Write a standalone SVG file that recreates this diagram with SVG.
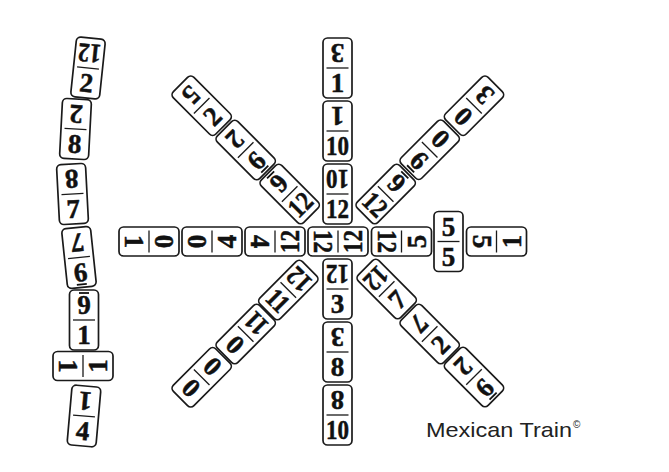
<svg xmlns="http://www.w3.org/2000/svg" xmlns:xlink="http://www.w3.org/1999/xlink" width="669" height="472" viewBox="0 0 669 472">
<style>
.d{fill:#fff;stroke:#1a1a1a;stroke-width:1.7}
.dv{stroke:#1a1a1a;stroke-width:1.3}
.n{font-family:"Liberation Serif","DejaVu Serif",serif;font-weight:bold;font-size:27px;text-anchor:middle;fill:#111;stroke:#111;stroke-width:0.5}
.u{stroke:#111;stroke-width:1.8}
.cap{font-family:"Liberation Sans",Arial,sans-serif;font-size:21px;fill:#222}
</style>
<defs>
<g id="dom"><rect class="d" x="-14.5" y="-30" width="29" height="60" rx="4.5"/><line class="dv" x1="-11" y1="0" x2="11" y2="0"/></g>
</defs>
<rect width="669" height="472" fill="#fff"/>
<g id="connectors"/>

<!-- top column -->
<g id="c1" transform="translate(337.5,68)"><use xlink:href="#dom"/><g transform="translate(0,-15) rotate(180)"><text class="n" y="9">3</text></g><g transform="translate(0,15)"><text class="n" y="9">1</text></g></g>
<g id="c2" transform="translate(337.5,131)"><use xlink:href="#dom"/><g transform="translate(0,-15) rotate(180)"><text class="n" y="9">1</text></g><g transform="translate(0,15)"><text class="n" y="9" textLength="23" lengthAdjust="spacingAndGlyphs">10</text></g></g>
<g id="c3" transform="translate(337.5,194)"><use xlink:href="#dom"/><g transform="translate(0,-15) rotate(180)"><text class="n" y="9" textLength="23" lengthAdjust="spacingAndGlyphs">10</text></g><g transform="translate(0,15)"><text class="n" y="9" textLength="23" lengthAdjust="spacingAndGlyphs">12</text></g></g>
<!-- center -->
<g id="center" transform="translate(338,241.5) rotate(-90)"><use xlink:href="#dom"/><g transform="translate(0,-15) rotate(180)"><text class="n" y="9" textLength="23" lengthAdjust="spacingAndGlyphs">12</text></g><g transform="translate(0,15)"><text class="n" y="9" textLength="23" lengthAdjust="spacingAndGlyphs">12</text></g></g>
<!-- bottom column -->
<g id="b1" transform="translate(337.5,289)"><use xlink:href="#dom"/><g transform="translate(0,-15) rotate(180)"><text class="n" y="9" textLength="23" lengthAdjust="spacingAndGlyphs">12</text></g><g transform="translate(0,15)"><text class="n" y="9">3</text></g></g>
<g id="b2" transform="translate(337.5,352)"><use xlink:href="#dom"/><g transform="translate(0,-15) rotate(180)"><text class="n" y="9">3</text></g><g transform="translate(0,15)"><text class="n" y="9">8</text></g></g>
<g id="b3" transform="translate(337.5,415)"><use xlink:href="#dom"/><g transform="translate(0,-15) rotate(180)"><text class="n" y="9">8</text></g><g transform="translate(0,15)"><text class="n" y="9" textLength="23" lengthAdjust="spacingAndGlyphs">10</text></g></g>
<!-- left arm -->
<g id="l1" transform="translate(275,241.5) rotate(-90)"><use xlink:href="#dom"/><g transform="translate(0,-15) rotate(180)"><text class="n" y="9">4</text></g><g transform="translate(0,15)"><text class="n" y="9" textLength="23" lengthAdjust="spacingAndGlyphs">12</text></g></g>
<g id="l2" transform="translate(212,241.5) rotate(-90)"><use xlink:href="#dom"/><g transform="translate(0,-15) rotate(180)"><text class="n" y="9">0</text></g><g transform="translate(0,15)"><text class="n" y="9">4</text></g></g>
<g id="l3" transform="translate(149,241.5) rotate(-90)"><use xlink:href="#dom"/><g transform="translate(0,-15) rotate(180)"><text class="n" y="9">1</text></g><g transform="translate(0,15)"><text class="n" y="9">0</text></g></g>
<!-- right arm -->
<g id="r1" transform="translate(401.5,241.5) rotate(-90)"><use xlink:href="#dom"/><g transform="translate(0,-15) rotate(180)"><text class="n" y="9" textLength="23" lengthAdjust="spacingAndGlyphs">12</text></g><g transform="translate(0,15)"><text class="n" y="9">5</text></g></g>
<g id="r2" transform="translate(448.5,241.5)"><use xlink:href="#dom"/><g transform="translate(0,-15)"><text class="n" y="9">5</text></g><g transform="translate(0,15)"><text class="n" y="9">5</text></g></g>
<g id="r3" transform="translate(496.5,241.5) rotate(-90)"><use xlink:href="#dom"/><g transform="translate(0,-15) rotate(180)"><text class="n" y="9">5</text></g><g transform="translate(0,15)"><text class="n" y="9">1</text></g></g>
<!-- upper-left arm -->
<g id="ul1" transform="translate(289.7,194) rotate(-45)"><use xlink:href="#dom"/><g transform="translate(0,-15) rotate(180)"><text class="n" y="9">6</text><line class="u" x1="-5" y1="12" x2="5" y2="12"/></g><g transform="translate(0,15)"><text class="n" y="9" textLength="23" lengthAdjust="spacingAndGlyphs">12</text></g></g>
<g id="ul2" transform="translate(245.7,150) rotate(-45)"><use xlink:href="#dom"/><g transform="translate(0,-15) rotate(180)"><text class="n" y="9">2</text></g><g transform="translate(0,15)"><text class="n" y="9">6</text><line class="u" x1="-5" y1="12" x2="5" y2="12"/></g></g>
<g id="ul3" transform="translate(201.7,105.7) rotate(-45)"><use xlink:href="#dom"/><g transform="translate(0,-15) rotate(180)"><text class="n" y="9">5</text></g><g transform="translate(0,15)"><text class="n" y="9">2</text></g></g>
<!-- upper-right arm -->
<g id="ur1" transform="translate(385.7,194) rotate(-135)"><use xlink:href="#dom"/><g transform="translate(0,-15) rotate(180)"><text class="n" y="9" textLength="23" lengthAdjust="spacingAndGlyphs">12</text></g><g transform="translate(0,15)"><text class="n" y="9">6</text><line class="u" x1="-5" y1="12" x2="5" y2="12"/></g></g>
<g id="ur2" transform="translate(429.7,149.7) rotate(-135)"><use xlink:href="#dom"/><g transform="translate(0,-15) rotate(180)"><text class="n" y="9">6</text><line class="u" x1="-5" y1="12" x2="5" y2="12"/></g><g transform="translate(0,15)"><text class="n" y="9">0</text></g></g>
<g id="ur3" transform="translate(474,105.7) rotate(-135)"><use xlink:href="#dom"/><g transform="translate(0,-15) rotate(180)"><text class="n" y="9">0</text></g><g transform="translate(0,15)"><text class="n" y="9">3</text></g></g>
<!-- lower-left arm -->
<g id="ll1" transform="translate(288.3,290) rotate(-135)"><use xlink:href="#dom"/><g transform="translate(0,-15) rotate(180)"><text class="n" y="9" textLength="21" lengthAdjust="spacingAndGlyphs">11</text></g><g transform="translate(0,15)"><text class="n" y="9" textLength="23" lengthAdjust="spacingAndGlyphs">12</text></g></g>
<g id="ll2" transform="translate(245.7,334) rotate(-135)"><use xlink:href="#dom"/><g transform="translate(0,-15) rotate(180)"><text class="n" y="9">0</text></g><g transform="translate(0,15)"><text class="n" y="9" textLength="21" lengthAdjust="spacingAndGlyphs">11</text></g></g>
<g id="ll3" transform="translate(201.7,377.3) rotate(-135)"><use xlink:href="#dom"/><g transform="translate(0,-15) rotate(180)"><text class="n" y="9">0</text></g><g transform="translate(0,15)"><text class="n" y="9">0</text></g></g>
<!-- lower-right arm -->
<g id="lr1" transform="translate(386.7,289) rotate(-45)"><use xlink:href="#dom"/><g transform="translate(0,-15) rotate(180)"><text class="n" y="9" textLength="23" lengthAdjust="spacingAndGlyphs">12</text></g><g transform="translate(0,15)"><text class="n" y="9">7</text></g></g>
<g id="lr2" transform="translate(429.7,334) rotate(-45)"><use xlink:href="#dom"/><g transform="translate(0,-15) rotate(180)"><text class="n" y="9">7</text></g><g transform="translate(0,15)"><text class="n" y="9">2</text></g></g>
<g id="lr3" transform="translate(474,377) rotate(-45)"><use xlink:href="#dom"/><g transform="translate(0,-15) rotate(180)"><text class="n" y="9">2</text></g><g transform="translate(0,15)"><text class="n" y="9">6</text><line class="u" x1="-5" y1="12" x2="5" y2="12"/></g></g>
<!-- left column -->
<g id="s1" transform="translate(88,68) rotate(6)"><use xlink:href="#dom"/><g transform="translate(0,-15) rotate(180)"><text class="n" y="9" textLength="23" lengthAdjust="spacingAndGlyphs">12</text></g><g transform="translate(0,15)"><text class="n" y="9">2</text></g></g>
<g id="s2" transform="translate(75.5,129) rotate(3)"><use xlink:href="#dom"/><g transform="translate(0,-15) rotate(180)"><text class="n" y="9">2</text></g><g transform="translate(0,15)"><text class="n" y="9">8</text></g></g>
<g id="s3" transform="translate(72.5,194) rotate(-3)"><use xlink:href="#dom"/><g transform="translate(0,-15) rotate(180)"><text class="n" y="9">8</text></g><g transform="translate(0,15)"><text class="n" y="9">7</text></g></g>
<g id="s4" transform="translate(79,257.5) rotate(-6)"><use xlink:href="#dom"/><g transform="translate(0,-15) rotate(180)"><text class="n" y="9">7</text></g><g transform="translate(0,15)"><text class="n" y="9">6</text><line class="u" x1="-5" y1="12" x2="5" y2="12"/></g></g>
<g id="s5" transform="translate(84,320)"><use xlink:href="#dom"/><g transform="translate(0,-15) rotate(180)"><text class="n" y="9">6</text><line class="u" x1="-5" y1="12" x2="5" y2="12"/></g><g transform="translate(0,15)"><text class="n" y="9">1</text></g></g>
<g id="s6" transform="translate(83,366) rotate(-90)"><use xlink:href="#dom"/><g transform="translate(0,-15) rotate(180)"><text class="n" y="9">1</text></g><g transform="translate(0,15)"><text class="n" y="9">1</text></g></g>
<g id="s7" transform="translate(84,416) rotate(5)"><use xlink:href="#dom"/><g transform="translate(0,-15) rotate(180)"><text class="n" y="9">1</text></g><g transform="translate(0,15)"><text class="n" y="9">4</text></g></g>

<g id="caption"><text class="cap" x="426" y="436.5" textLength="146" lengthAdjust="spacingAndGlyphs">Mexican Train</text><text class="cap" x="573" y="428" style="font-size:10px">©</text></g>
</svg>
